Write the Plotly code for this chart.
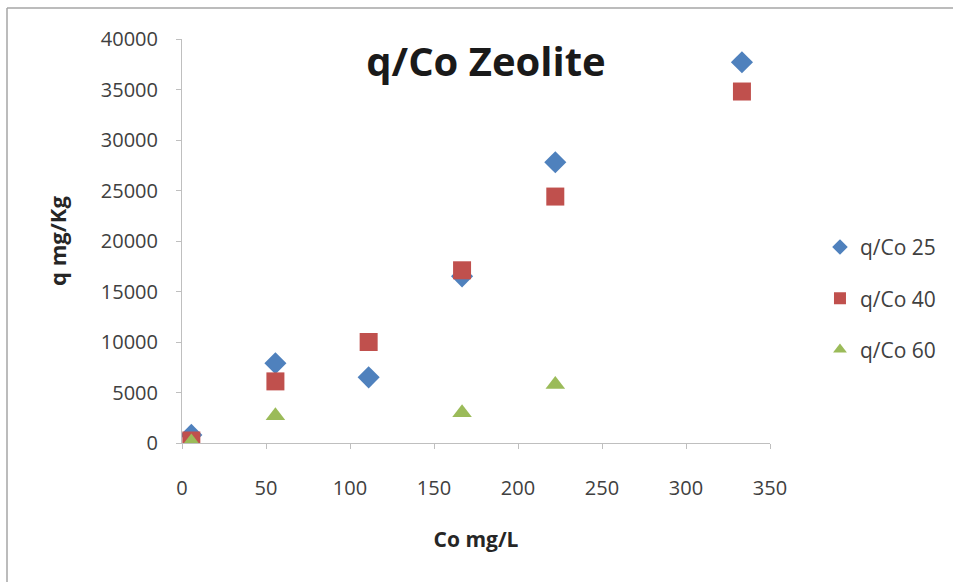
import plotly.graph_objects as go

# Initial concentrations (mg/L) and uptake q (mg/Kg) for each series
co_25 = [5.56, 55.6, 111.1, 166.7, 222.2, 333.3]
q_25 = [800, 7900, 6500, 16500, 27800, 37700]

co_40 = [5.56, 55.6, 111.1, 166.7, 222.2, 333.3]
q_40 = [250, 6100, 10000, 17100, 24400, 34800]

co_60 = [5.56, 55.6, 166.7, 222.2]
q_60 = [100, 2700, 3000, 5800]

x_ticks = [0, 50, 100, 150, 200, 250, 300, 350]
y_ticks = [0, 5000, 10000, 15000, 20000, 25000, 30000, 35000, 40000]

FONT = "Open Sans, Lato, sans-serif"

fig = go.Figure()
fig.add_trace(go.Scatter(x=co_25, y=q_25, mode="markers", name="q/Co 25", legendgroup="a",
                         marker=dict(symbol="diamond", size=17, color="#4F81BD")))
fig.add_trace(go.Scatter(x=co_40, y=q_40, mode="markers", name="q/Co 40", legendgroup="b",
                         marker=dict(symbol="square", size=18, color="#C0504D")))
fig.add_trace(go.Scatter(x=co_60, y=q_60, mode="markers", name="q/Co 60", legendgroup="c",
                         marker=dict(symbol="triangle-up", size=17, color="#9BBB59")))

fig.update_layout(
    width=953, height=582,
    margin=dict(l=182, r=183, t=39, b=139),
    paper_bgcolor="white", plot_bgcolor="white",
    font=dict(family=FONT, color="#404040"),
    title=dict(text="<b>q/Co Zeolite</b>", x=0.51, xanchor="center",
               y=0.894, yanchor="middle",
               font=dict(size=40, color="#1a1a1a", family=FONT)),
    showlegend=True,
    legend=dict(x=1.085, y=0.358, xanchor="left", yanchor="middle",
                font=dict(size=21, color="#404040"), tracegroupgap=21,
                itemsizing="constant", bgcolor="rgba(0,0,0,0)"),
    xaxis=dict(range=[0, 350], tickvals=x_ticks, ticktext=[str(v) for v in x_ticks],
               showgrid=False, zeroline=False,
               showline=True, linecolor="#BFBFBF", linewidth=1,
               ticks="outside", ticklen=5, tickcolor="#BFBFBF",
               ticklabelstandoff=22,
               tickfont=dict(size=20, color="#404040"),
               title=dict(text="<b>Co mg/L</b>", font=dict(size=21, color="#262626"),
                          standoff=32)),
    yaxis=dict(range=[0, 40000], tickvals=y_ticks, ticktext=[str(v) for v in y_ticks],
               showgrid=False, zeroline=False,
               showline=True, linecolor="#BFBFBF", linewidth=1,
               ticks="outside", ticklen=5, tickcolor="#BFBFBF",
               ticklabelstandoff=14,
               tickfont=dict(size=20, color="#404040"),
               title=dict(text="<b>q mg/Kg</b>", font=dict(size=22, color="#262626"),
                          standoff=28)),
)

# Chart-area frame edges (left and top)
fig.add_shape(type="line", xref="paper", yref="paper",
              x0=(7 - 182) / 588, x1=(7 - 182) / 588, y0=(443 - 582) / 404, y1=(443 - 8) / 404,
              line=dict(color="#A6A6A6", width=1.5))
fig.add_shape(type="line", xref="paper", yref="paper",
              x0=(7 - 182) / 588, x1=(953 - 182) / 588, y0=(443 - 8) / 404, y1=(443 - 8) / 404,
              line=dict(color="#A6A6A6", width=1.5))

fig.write_html("out.html")
